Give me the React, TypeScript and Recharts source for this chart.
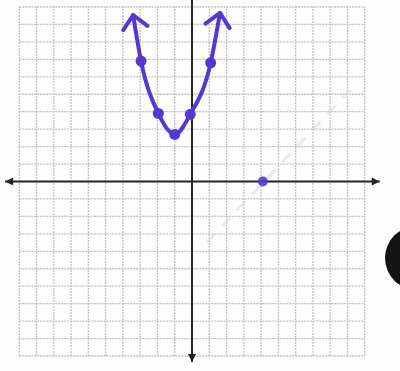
import {
  ComposedChart,
  Line,
  ReferenceLine,
  Scatter,
  XAxis,
  YAxis,
} from 'recharts'

// parabola: arrow tips at both ends, plotted points in between
const curveX = [-3.41, -2.95, -1.95, -1, -0.1, 1.08, 1.62]
const curveY = [9.54, 6.9, 3.9, 2.7, 3.85, 6.8, 9.66]

// single point on the x-axis and the faint pencil line through it
const pointX = [4.1]
const pointY = [0]
const faintX = [0.85, 9.25]
const faintY = [-3.5, 5.35]

// graph paper and axes
const gridTicks = [-10, -9, -8, -7, -6, -5, -4, -3, -2, -1, 0, 1, 2, 3, 4, 5, 6, 7, 8, 9, 10]
const xAxisEnds = [-10.82, 10.87]
const yAxisEnds = [10.4, -10.34]

const X_DOMAIN: [number, number] = [-11, 11]
const Y_DOMAIN: [number, number] = [-10.4, 10.4]
const WIDTH = 400
const HEIGHT = 371
const MARGIN = { top: 0, right: 18, bottom: 8, left: 2 }
const UX = (WIDTH - MARGIN.left - MARGIN.right) / (X_DOMAIN[1] - X_DOMAIN[0])
const UY = (HEIGHT - MARGIN.top - MARGIN.bottom) / (Y_DOMAIN[1] - Y_DOMAIN[0])

const PURPLE = '#5637d0'
const INK = '#262626'
const GRID = '#c2c2c2'

const curveData = curveX.map((x, i) => ({ x, y: curveY[i] }))
const pointData = pointX.map((x, i) => ({ x, y: pointY[i] }))
const faintData = faintX.map((x, i) => ({ x, y: faintY[i] }))
const axisTips = [
  { x: xAxisEnds[0], y: 0, dx: -1, dy: 0 },
  { x: xAxisEnds[1], y: 0, dx: 1, dy: 0 },
  { x: 0, y: yAxisEnds[1], dx: 0, dy: 1 },
]

function renderCurveDot(props: any) {
  const { cx, cy, index } = props
  const last = curveData.length - 1
  if (index === 0 || index === last) {
    const prev = curveData[index === 0 ? 1 : last - 1]
    const cur = curveData[index]
    // screen direction of travel toward the tip
    const vx = (cur.x - prev.x) * UX
    const vy = -(cur.y - prev.y) * UY
    const ang = Math.atan2(vy, vx)
    const len = 18
    const spread = 0.75
    const a1 = ang + Math.PI - spread
    const a2 = ang + Math.PI + spread
    return (
      <path
        key={`tip-${index}`}
        d={`M${cx + Math.cos(a1) * len},${cy + Math.sin(a1) * len} L${cx},${cy} L${cx + Math.cos(a2) * len},${cy + Math.sin(a2) * len}`}
        stroke={PURPLE}
        strokeWidth={4}
        strokeLinecap="round"
        strokeLinejoin="round"
        fill="none"
      />
    )
  }
  return <circle key={`dot-${index}`} cx={cx} cy={cy} r={5.5} fill={PURPLE} />
}

function AxisArrow(props: any) {
  const { cx, cy, payload } = props
  const { dx, dy } = payload
  const px = -dy
  const py = dx
  const l = 8
  const w = 4
  const d = `M${cx},${cy} L${cx - dx * l + px * w},${cy - dy * l + py * w} L${cx - dx * l - px * w},${cy - dy * l - py * w} Z`
  return <path d={d} fill={INK} />
}

function PointDot(props: any) {
  const { cx, cy } = props
  return <circle cx={cx} cy={cy} r={5} fill={PURPLE} fillOpacity={0.9} />
}

export default function App() {
  return (
    <div
      style={{
        position: 'absolute',
        left: 0,
        top: 0,
        width: WIDTH,
        height: HEIGHT,
        overflow: 'hidden',
        background: '#fdfdfd',
      }}
    >
      <ComposedChart width={WIDTH} height={HEIGHT} margin={MARGIN}>
        <XAxis type="number" dataKey="x" domain={X_DOMAIN} hide allowDataOverflow />
        <YAxis type="number" dataKey="y" domain={Y_DOMAIN} hide allowDataOverflow />

        {gridTicks.map(t => (
          <ReferenceLine
            key={`gv-${t}`}
            segment={[{ x: t, y: -10 }, { x: t, y: 10 }]}
            stroke={GRID}
            strokeWidth={1.3}
            strokeDasharray="2 1"
          />
        ))}
        {gridTicks.map(t => (
          <ReferenceLine
            key={`gh-${t}`}
            segment={[{ x: -10, y: t }, { x: 10, y: t }]}
            stroke={GRID}
            strokeWidth={1.3}
            strokeDasharray="2 1"
          />
        ))}

        <ReferenceLine
          segment={[{ x: xAxisEnds[0], y: 0 }, { x: xAxisEnds[1], y: 0 }]}
          stroke={INK}
          strokeWidth={2}
        />
        <ReferenceLine
          segment={[{ x: 0, y: yAxisEnds[0] }, { x: 0, y: yAxisEnds[1] }]}
          stroke={INK}
          strokeWidth={2}
        />
        <Scatter data={axisTips} shape={AxisArrow} isAnimationActive={false} />

        <Line
          data={faintData}
          dataKey="y"
          type="linear"
          stroke="#cfd1ec"
          strokeWidth={3}
          strokeDasharray="12 10"
          strokeOpacity={0.45}
          dot={false}
          activeDot={false}
          isAnimationActive={false}
        />
        <Scatter data={pointData} shape={PointDot} isAnimationActive={false} />

        <Line
          data={curveData}
          dataKey="y"
          type="monotone"
          stroke={PURPLE}
          strokeWidth={4}
          strokeLinecap="round"
          dot={renderCurveDot}
          activeDot={false}
          isAnimationActive={false}
        />
      </ComposedChart>
      <div
        style={{
          position: 'absolute',
          left: 385,
          top: 226,
          width: 64,
          height: 64,
          borderRadius: '50%',
          background: '#141414',
        }}
      />
    </div>
  )
}
